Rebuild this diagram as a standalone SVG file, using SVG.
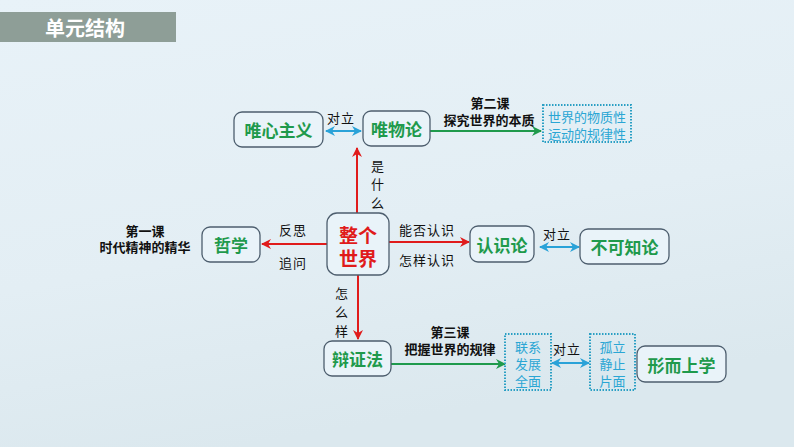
<svg xmlns="http://www.w3.org/2000/svg" width="794" height="447" viewBox="0 0 794 447">
<defs>
<linearGradient id="bg" x1="0" y1="0" x2="0.3" y2="1">
<stop offset="0" stop-color="#e8f2f8"/>
<stop offset="0.6" stop-color="#e3eef4"/>
<stop offset="1" stop-color="#dbe8ee"/>
</linearGradient>
<marker id="ar" viewBox="0 0 10 10" refX="9" refY="5" markerWidth="10" markerHeight="10" markerUnits="userSpaceOnUse" orient="auto-start-reverse">
<path d="M0,0 L10,5 L0,10 L3,5 Z" fill="#e01b1b"/>
</marker>
<marker id="ag" viewBox="0 0 10 10" refX="9" refY="5" markerWidth="10" markerHeight="10" markerUnits="userSpaceOnUse" orient="auto-start-reverse">
<path d="M0,0 L10,5 L0,10 L3,5 Z" fill="#1f9a4c"/>
</marker>
<marker id="ab" viewBox="0 0 10 10" refX="9" refY="5" markerWidth="10" markerHeight="10" markerUnits="userSpaceOnUse" orient="auto-start-reverse">
<path d="M0,0 L10,5 L0,10 L3,5 Z" fill="#2aa2d8"/>
</marker>
</defs>
<style>
.node{fill:#e9f3f9;stroke:#4d5e6e;stroke-width:1.3}
.dot{fill:none;stroke:#2a9fc4;stroke-width:2;stroke-dasharray:1.5 1.5}
.nt{font-family:"Noto Sans CJK SC","Noto Sans",sans-serif;font-weight:bold;font-size:17px;fill:#1f9a4c;text-anchor:middle;dominant-baseline:central}
.red{fill:#e01b1b;font-size:19px}
.lbl{font-family:"Noto Sans CJK SC",sans-serif;font-size:13px;fill:#111;text-anchor:middle;dominant-baseline:central;letter-spacing:1px}
.les{font-family:"Noto Sans CJK SC",sans-serif;font-weight:bold;font-size:13px;fill:#111;text-anchor:middle;dominant-baseline:central}
.bt{font-family:"Noto Sans CJK SC",sans-serif;font-size:13px;fill:#2aa6d4;text-anchor:middle;dominant-baseline:central}
.lr{stroke:#e01b1b;stroke-width:2;fill:none}
.lg{stroke:#1f9a4c;stroke-width:2;fill:none}
.lb{stroke:#2aa2d8;stroke-width:2;fill:none}
</style>
<rect x="0" y="0" width="794" height="447" fill="url(#bg)"/>
<g id="title">
<rect x="0" y="12" width="176" height="30" fill="#8e9e97"/>
<text x="85" y="27" font-family="Noto Sans CJK SC,sans-serif" font-weight="bold" font-size="20" fill="#ffffff" text-anchor="middle" dominant-baseline="central">单元结构</text>
</g>
<g id="connectors">
<line class="lb" x1="326" y1="131" x2="361" y2="131" marker-start="url(#ab)" marker-end="url(#ab)"/>
<text class="lbl" x="341" y="117">对立</text>
<line class="lg" x1="430" y1="131" x2="541" y2="131" marker-end="url(#ag)"/>
<text class="les"><tspan x="490" y="102">第二课</tspan><tspan x="489" y="119">探究世界的本质</tspan></text>
<line class="lr" x1="357" y1="213" x2="357" y2="148" marker-end="url(#ar)"/>
<text class="lbl"><tspan x="378" y="165">是</tspan><tspan x="378" y="183">什</tspan><tspan x="378" y="202">么</tspan></text>
<line class="lr" x1="327" y1="244" x2="262" y2="244" marker-end="url(#ar)"/>
<text class="lbl" x="293" y="229">反思</text>
<text class="lbl" x="293" y="262">追问</text>
<line class="lr" x1="389" y1="242" x2="469" y2="242" marker-end="url(#ar)"/>
<text class="lbl" x="427" y="229">能否认识</text>
<text class="lbl" x="427" y="259">怎样认识</text>
<line class="lb" x1="540" y1="247" x2="579" y2="247" marker-start="url(#ab)" marker-end="url(#ab)"/>
<text class="lbl" x="557" y="233">对立</text>
<line class="lr" x1="358" y1="275" x2="358" y2="339" marker-end="url(#ar)"/>
<text class="lbl"><tspan x="342" y="292">怎</tspan><tspan x="342" y="311">么</tspan><tspan x="342" y="330">样</tspan></text>
<line class="lg" x1="391" y1="364" x2="505" y2="364" marker-end="url(#ag)"/>
<text class="les"><tspan x="450" y="331">第三课</tspan><tspan x="450" y="348">把握世界的规律</tspan></text>
<line class="lb" x1="552" y1="363" x2="589" y2="363" marker-start="url(#ab)" marker-end="url(#ab)"/>
<text class="lbl" x="567" y="348">对立</text>
</g>
<g id="n-weixin">
<rect class="node" x="234" y="112" width="89" height="35" rx="8"/>
<text class="nt" x="278.5" y="129.5">唯心主义</text>
</g>
<g id="n-weiwu">
<rect class="node" x="363" y="111" width="67" height="35" rx="8"/>
<text class="nt" x="396.5" y="128.5">唯物论</text>
</g>
<g id="n-wuzhi">
<rect class="dot" x="543" y="105" width="88" height="37"/>
<text class="bt"><tspan x="587" y="116">世界的物质性</tspan><tspan x="587" y="133">运动的规律性</tspan></text>
</g>
<g id="n-world">
<rect class="node" x="327" y="213" width="62" height="62" rx="10"/>
<text class="nt red"><tspan x="358" y="234">整个</tspan><tspan x="358" y="257">世界</tspan></text>
</g>
<g id="n-zhexue">
<rect class="node" x="202" y="227" width="58" height="35" rx="8"/>
<text class="nt" x="231" y="244.5">哲学</text>
</g>
<g id="n-lesson1">
<text class="les"><tspan x="145" y="230">第一课</tspan><tspan x="145" y="246">时代精神的精华</tspan></text>
</g>
<g id="n-renshi">
<rect class="node" x="470" y="226" width="64" height="36" rx="8"/>
<text class="nt" x="502" y="244">认识论</text>
</g>
<g id="n-bukezhi">
<rect class="node" x="580" y="229" width="89" height="35" rx="8"/>
<text class="nt" x="624.5" y="246.5">不可知论</text>
</g>
<g id="n-bianzheng">
<rect class="node" x="324" y="341" width="67" height="35" rx="8"/>
<text class="nt" x="357.5" y="358.5">辩证法</text>
</g>
<g id="n-lianxi">
<rect class="dot" x="505" y="334" width="46" height="56"/>
<text class="bt"><tspan x="528" y="346">联系</tspan><tspan x="528" y="363">发展</tspan><tspan x="528" y="380">全面</tspan></text>
</g>
<g id="n-guli">
<rect class="dot" x="590" y="334" width="45" height="56"/>
<text class="bt"><tspan x="612.5" y="346">孤立</tspan><tspan x="612.5" y="363">静止</tspan><tspan x="612.5" y="380">片面</tspan></text>
</g>
<g id="n-xingershang">
<rect class="node" x="637" y="346" width="89" height="36" rx="8"/>
<text class="nt" x="681.5" y="364" font-size="19">形而上学</text>
</g>
</svg>
